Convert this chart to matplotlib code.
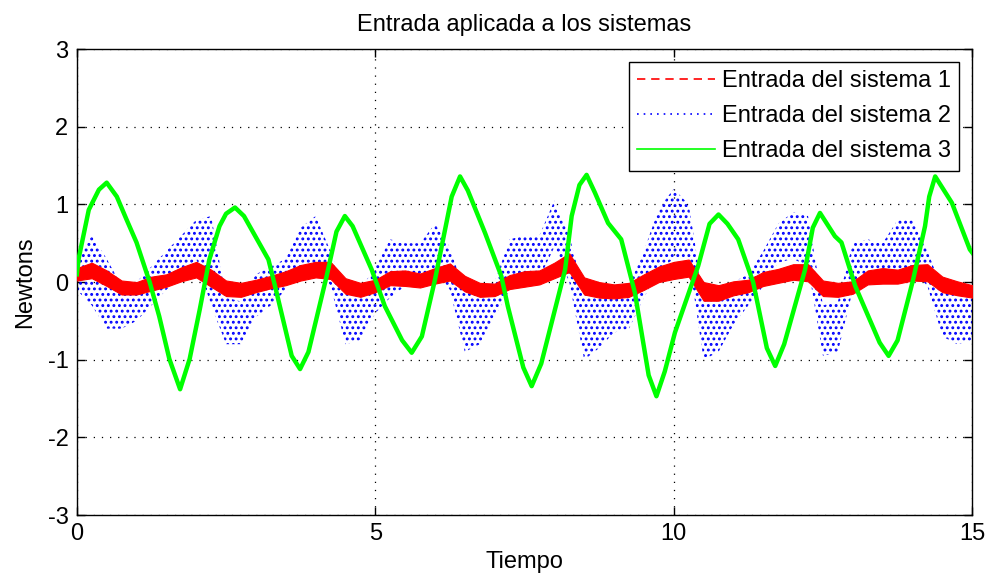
import matplotlib
matplotlib.use("Agg")
import matplotlib.pyplot as plt
from matplotlib.lines import Line2D
import numpy as np

plt.rcParams['font.family'] = ['Liberation Sans', 'DejaVu Sans']
plt.rcParams['hatch.linewidth'] = 1.3
plt.rcParams['axes.unicode_minus'] = False

title = "Entrada aplicada a los sistemas"
xlabel = "Tiempo"
ylabel = "Newtons"
labels = ["Entrada del sistema 1", "Entrada del sistema 2", "Entrada del sistema 3"]
xticks = [0, 5, 10, 15]
yticks = [-3, -2, -1, 0, 1, 2, 3]

# sample times of the envelope readings (every 0.25 s)
t_env = [i * 0.25 for i in range(61)]

# System 1 (red): band centre and half-width
red_mid = [0.10, 0.15, 0.05, -0.07, -0.08, -0.02, 0.02, 0.10, 0.16, 0.05,
           -0.08, -0.10, -0.05, 0.00, 0.05, 0.12, 0.16, 0.15, -0.05, -0.10,
           -0.05, 0.05, 0.05, 0.02, 0.08, 0.13, -0.02, -0.10, -0.10, 0.00,
           0.04, 0.06, 0.15, 0.25, -0.05, -0.10, -0.12, -0.10, 0.00, 0.10,
           0.15, 0.18, -0.12, -0.14, -0.08, -0.05, 0.04, 0.08, 0.13, 0.12,
           -0.08, -0.10, -0.07, 0.06, 0.08, 0.07, 0.12, 0.12, -0.03, -0.08,
           -0.12]
red_half = [0.08, 0.10, 0.10, 0.09, 0.08, 0.09, 0.08, 0.09, 0.10, 0.11,
            0.10, 0.09, 0.08, 0.08, 0.09, 0.10, 0.10, 0.11, 0.10, 0.09,
            0.08, 0.09, 0.10, 0.09, 0.10, 0.11, 0.10, 0.09, 0.08, 0.09,
            0.10, 0.09, 0.10, 0.12, 0.11, 0.10, 0.09, 0.09, 0.10, 0.10,
            0.11, 0.11, 0.12, 0.10, 0.09, 0.08, 0.09, 0.09, 0.10, 0.11,
            0.10, 0.09, 0.08, 0.09, 0.10, 0.09, 0.10, 0.11, 0.10, 0.09,
            0.08]

# System 2 (blue): lower / upper envelope of the noisy signal
blue_lo = [-0.10, -0.30, -0.60, -0.60, -0.50, -0.30, -0.10, 0.10, 0.30, -0.30,
           -0.80, -0.80, -0.45, -0.30, -0.10, 0.20, 0.25, -0.05, -0.80, -0.75,
           -0.40, -0.20, -0.05, 0.00, 0.15, -0.10, -0.90, -0.80, -0.45, -0.10,
           0.00, 0.05, 0.45, 0.00, -1.00, -0.85, -0.65, -0.60, -0.20, 0.15,
           0.30, 0.30, -1.00, -0.90, -0.55, -0.30, -0.05, 0.25, 0.30, 0.20,
           -0.95, -0.90, -0.10, -0.05, 0.00, 0.15, 0.15, -0.05, -0.70, -0.80,
           -0.75]
blue_hi = [0.30, 0.60, 0.30, -0.05, 0.00, 0.20, 0.40, 0.60, 0.80, 0.85,
           -0.20, -0.25, 0.10, 0.20, 0.30, 0.70, 0.85, 0.40, -0.15, -0.10,
           0.20, 0.55, 0.50, 0.50, 0.75, 0.45, -0.15, -0.10, 0.00, 0.55,
           0.60, 0.60, 1.05, 0.60, -0.15, -0.10, -0.05, -0.05, 0.40, 0.95,
           1.20, 1.00, -0.20, -0.10, 0.00, 0.10, 0.40, 0.75, 0.90, 0.85,
           -0.30, -0.25, 0.50, 0.55, 0.50, 0.80, 0.80, 0.40, -0.10, -0.05,
           -0.10]

# System 3 (green): readings along the slow oscillation
green_t = [0.00, 0.03, 0.20, 0.37, 0.50, 0.67, 0.83, 1.00, 1.22, 1.38,
           1.55, 1.73, 1.89, 2.06, 2.22, 2.39, 2.50, 2.65, 2.80, 3.21,
           3.32, 3.60, 3.74, 3.88, 4.18, 4.35, 4.49, 4.62, 4.94, 5.16,
           5.45, 5.61, 5.78, 6.00, 6.28, 6.42, 6.55, 6.84, 7.11, 7.22,
           7.48, 7.62, 7.78, 8.18, 8.29, 8.42, 8.54, 8.68, 8.90, 9.12,
           9.35, 9.58, 9.71, 9.85, 10.02, 10.41, 10.60, 10.75, 10.90, 11.08,
           11.33, 11.56, 11.70, 11.85, 12.20, 12.33, 12.45, 12.70, 12.81, 13.04,
           13.45, 13.60, 13.75, 14.01, 14.21, 14.28, 14.38, 14.66, 14.96, 15.00]
green_y = [0.10, 0.30, 0.93, 1.19, 1.28, 1.10, 0.81, 0.51, 0.00, -0.44,
           -0.99, -1.38, -0.99, -0.35, 0.29, 0.72, 0.88, 0.96, 0.85, 0.29,
           -0.05, -0.95, -1.12, -0.90, 0.06, 0.65, 0.85, 0.72, 0.16, -0.31,
           -0.75, -0.91, -0.70, 0.03, 1.10, 1.36, 1.18, 0.63, 0.08, -0.31,
           -1.10, -1.34, -1.05, 0.16, 0.85, 1.25, 1.38, 1.15, 0.76, 0.55,
           -0.14, -1.20, -1.47, -1.15, -0.65, 0.21, 0.75, 0.87, 0.75, 0.55,
           0.00, -0.85, -1.08, -0.80, 0.16, 0.70, 0.89, 0.59, 0.51, -0.05,
           -0.78, -0.95, -0.75, 0.03, 0.72, 1.10, 1.36, 1.02, 0.42, 0.38]

RED = '#FF0000'
BLUE = '#0000FF'
GREEN = '#00FF00'
FS = 17

fig = plt.figure(figsize=(9.85, 5.84), dpi=100)
ax = fig.add_axes([0.078, 0.118, 0.909, 0.798])

t = np.array(t_env)
rm = np.array(red_mid)
rh = np.array(red_half)

ax.fill_between(t, blue_lo, blue_hi, facecolor='none', edgecolor=BLUE,
                hatch='...', linewidth=0, zorder=2)
ax.fill_between(t, rm - rh, rm + rh, facecolor=RED, edgecolor=RED,
                linewidth=0.8, zorder=3)
ax.plot(green_t, green_y, color=GREEN, linewidth=3.2, zorder=4)

ax.set_xlim(0, 15)
ax.set_ylim(-3, 3)
ax.set_xticks(xticks)
ax.set_yticks(yticks)
ax.tick_params(direction='in', length=6, width=1, top=True, right=True,
               labelsize=FS, pad=6)
for s in ax.spines.values():
    s.set_linewidth(1.0)
ax.grid(True, color='black', linestyle=(0, (1, 5.5)), linewidth=0.9)

ax.set_title(title, fontsize=FS, pad=13)
ax.set_xlabel(xlabel, fontsize=FS, labelpad=4)
ax.set_ylabel(ylabel, fontsize=FS, labelpad=8)

handles = [Line2D([], [], color=RED, linestyle=(0, (5, 3.5)), linewidth=1.2),
           Line2D([], [], color=BLUE, linestyle=(0, (1, 3)), linewidth=1.2),
           Line2D([], [], color=GREEN, linestyle='-', linewidth=1.2)]
leg = ax.legend(handles, labels, loc='upper right', fontsize=FS,
                handlelength=3.3, handletextpad=0.3, labelspacing=0.55,
                borderaxespad=0.55, borderpad=0.35, fancybox=False,
                framealpha=1, edgecolor='black')
leg.get_frame().set_linewidth(1.0)

fig.savefig('out.png', dpi=100)
